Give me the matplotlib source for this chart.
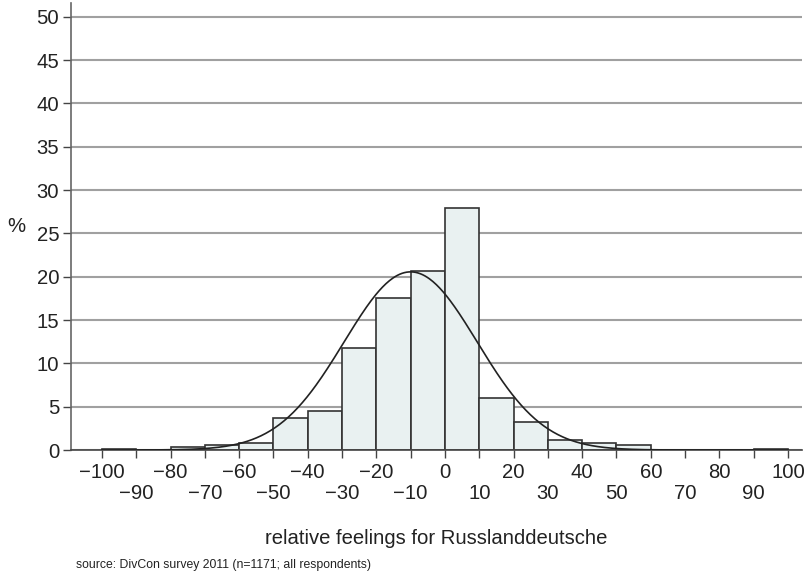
import numpy as np
import matplotlib
matplotlib.use("Agg")
import matplotlib.pyplot as plt

# ---- data ----
bin_starts = [-100, -90, -80, -70, -60, -50, -40, -30, -20, -10, 0, 10, 20, 30, 40, 50, 60, 70, 80, 90]
percent = [0.15, 0.0, 0.4, 0.6, 0.85, 3.7, 4.5, 11.8, 17.6, 20.7, 27.9, 6.0, 3.2, 1.1, 0.8, 0.6, 0.0, 0.0, 0.0, 0.15]
bin_width = 10
fit_mean = -10.0
fit_sd = 19.4
ytick_vals = [0, 5, 10, 15, 20, 25, 30, 35, 40, 45, 50]
xtick_row1 = [-100, -80, -60, -40, -20, 0, 20, 40, 60, 80, 100]
xtick_row2 = [-90, -70, -50, -30, -10, 10, 30, 50, 70, 90]

plt.rcParams['font.family'] = ['Liberation Sans', 'DejaVu Sans']

FS = 14.6
fig = plt.figure(figsize=(8.09, 5.74), dpi=100)
ax = fig.add_axes([0.0878, 0.2160, 0.9032, 0.7788])

ax.set_xlim(-109, 104)
ax.set_ylim(0, 51.6)

for y in ytick_vals:
    ax.axhline(y, color='#a0a0a0', lw=1.5, zorder=0)

ax.bar(bin_starts, percent, width=bin_width, align='edge',
       color='#e9f1f1', edgecolor='#333333', linewidth=1.2, zorder=2)

xs = np.linspace(-100, 100, 600)
dens = 100 * bin_width / (fit_sd * np.sqrt(2 * np.pi)) * np.exp(-0.5 * ((xs - fit_mean) / fit_sd) ** 2)
ax.plot(xs, dens, color='#222222', lw=1.2, zorder=3)

def fmt(v):
    return str(v).replace('-', '\u2212')

ax.set_xticks(xtick_row1)
ax.set_xticklabels([fmt(v) for v in xtick_row1])
ax.set_xticks(xtick_row2, minor=True)
ax.set_xticklabels([fmt(v) for v in xtick_row2], minor=True)
ax.set_yticks(ytick_vals)
ax.set_yticklabels([str(v) for v in ytick_vals])

ax.tick_params(axis='x', which='major', direction='out', length=5.5, width=1, pad=3.8,
               labelsize=FS, color='#444444', labelcolor='#222222')
ax.tick_params(axis='x', which='minor', direction='out', length=5.5, width=1, pad=19,
               labelsize=FS, color='#444444', labelcolor='#222222')
ax.tick_params(axis='y', direction='out', length=5.5, width=1, pad=3,
               labelsize=FS, color='#444444', labelcolor='#222222')

for s in ['top', 'right']:
    ax.spines[s].set_visible(False)
ax.spines['left'].set_color('#666666')
ax.spines['left'].set_linewidth(1.2)
ax.spines['bottom'].set_color('#444444')
ax.spines['bottom'].set_linewidth(1.2)

fig.text(16 / 809, 1 - 226 / 574, '%', fontsize=FS, color='#222222', ha='center', va='center')
fig.text(436 / 809, 1 - 539 / 574, 'relative feelings for Russlanddeutsche', fontsize=FS,
         color='#222222', ha='center', va='center')
fig.text(76 / 809, 1 - 565 / 574, 'source: DivCon survey 2011 (n=1171; all respondents)', fontsize=8.8,
         color='#222222', ha='left', va='center')

fig.savefig('out.png', dpi=100)
